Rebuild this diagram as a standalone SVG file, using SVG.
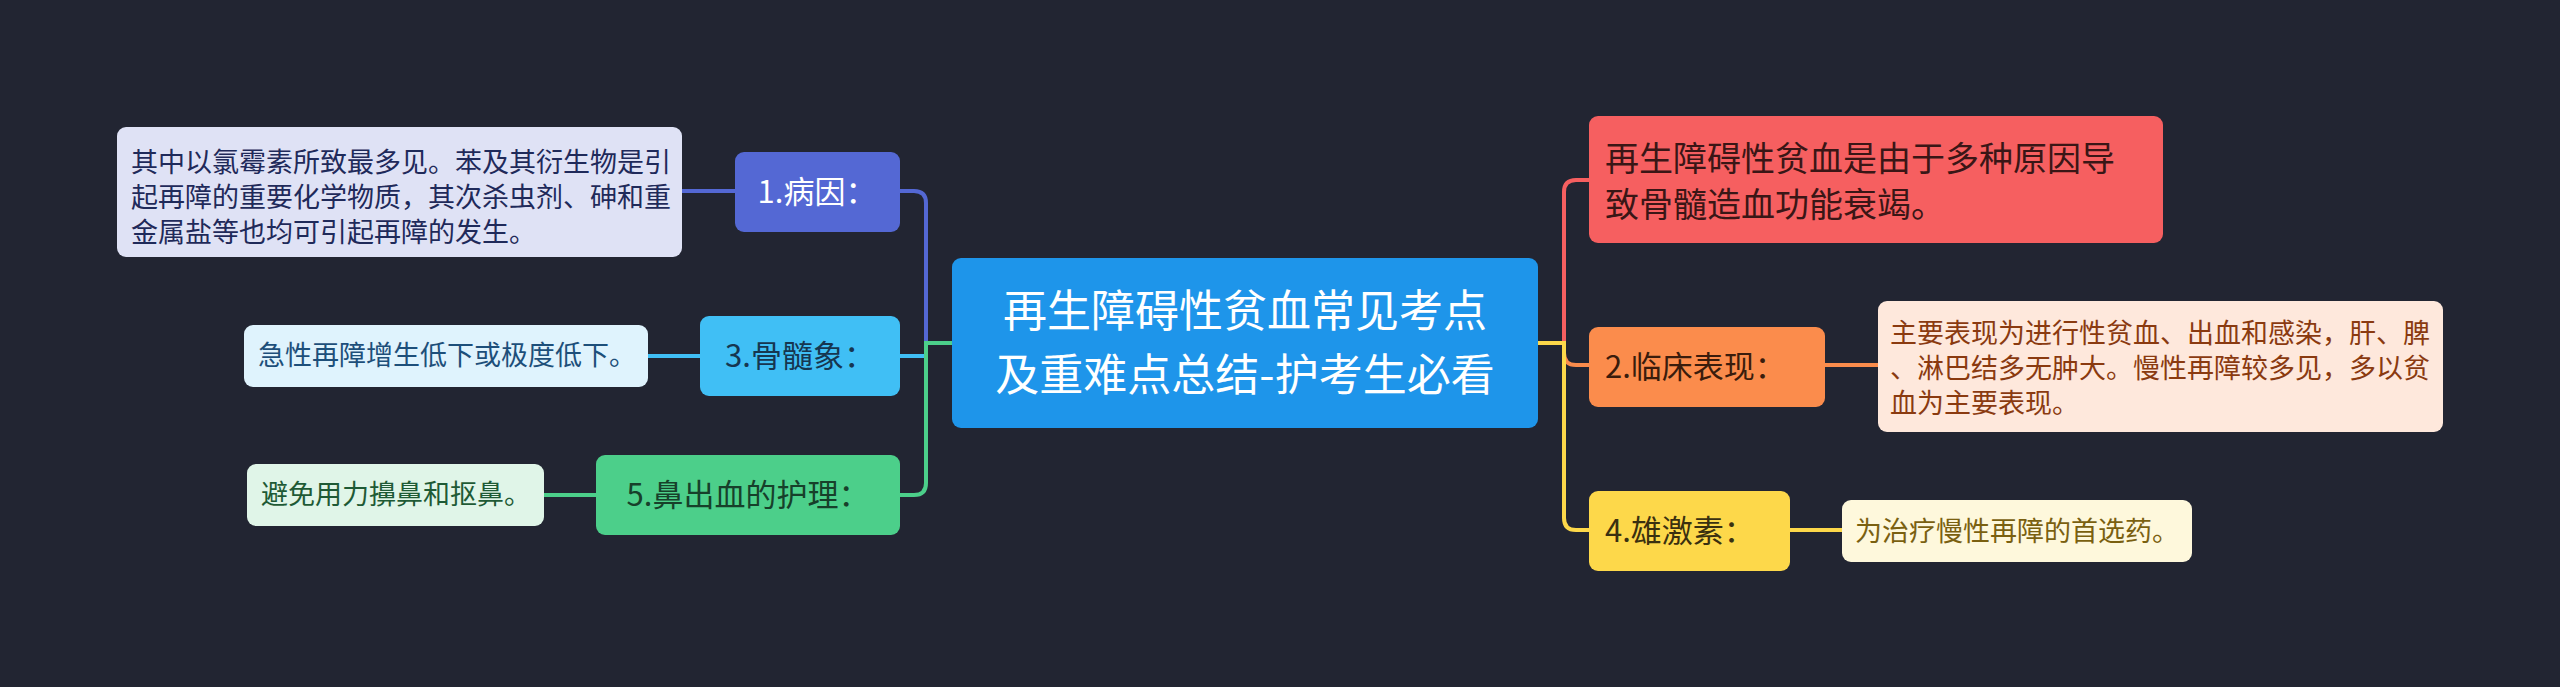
<svg xmlns="http://www.w3.org/2000/svg" width="2560" height="687" viewBox="0 0 2560 687">
<style>
text{font-family:"Noto Sans CJK SC","Noto Sans",sans-serif}
.c{fill:none;stroke-width:4}
.t{font-size:27px}
.n{font-size:31px}
</style>
<rect width="2560" height="687" fill="#222532"/>
<g id="connectors">
<path class="c" stroke="#5468d4" d="M952 343 H926 V203 Q926 191 914 191 H900"/>
<path class="c" stroke="#40bff5" d="M952 343 H926 V356 H900"/>
<path class="c" stroke="#4ccf8a" d="M952 343 H926 V483 Q926 495 914 495 H900"/>
<path class="c" stroke="#f65f60" d="M1538 343 H1564 V192 Q1564 180 1576 180 H1589"/>
<path class="c" stroke="#fb8c4c" d="M1538 343 H1564 V353 Q1564 365 1576 365 H1589"/>
<path class="c" stroke="#fdd84a" d="M1538 343 H1564 V518 Q1564 530 1576 530 H1589"/>
<path class="c" stroke="#5468d4" d="M682 191 H735"/>
<path class="c" stroke="#40bff5" d="M648 356 H700"/>
<path class="c" stroke="#4ccf8a" d="M544 495 H596"/>
<path class="c" stroke="#fb8c4c" d="M1825 365 H1878"/>
<path class="c" stroke="#fdd84a" d="M1790 530 H1842"/>
</g>
<g id="center">
<rect x="952" y="258" width="586" height="170" rx="9" fill="#1e95ea"/>
<text x="1245" y="327" font-size="44" fill="#fff" text-anchor="middle">再生障碍性贫血常见考点</text>
<text x="1245" y="391" font-size="44" fill="#fff" text-anchor="middle">及重难点总结-护考生必看</text>
</g>
<g id="n1">
<rect x="735" y="152" width="165" height="80" rx="9" fill="#5468d4"/>
<text x="817" y="203" class="n" fill="#fff" text-anchor="middle">1.病因：</text>
</g>
<g id="d1">
<rect x="117" y="127" width="565" height="130" rx="9" fill="#dfe2f5"/>
<text class="t" fill="#1f2a5a"><tspan x="131" y="172">其中以氯霉素所致最多见。苯及其衍生物是引</tspan><tspan x="131" y="207">起再障的重要化学物质，其次杀虫剂、砷和重</tspan><tspan x="131" y="242">金属盐等也均可引起再障的发生。</tspan></text>
</g>
<g id="n3">
<rect x="700" y="316" width="200" height="80" rx="9" fill="#40bff5"/>
<text x="800" y="367" class="n" fill="#163650" text-anchor="middle">3.骨髓象：</text>
</g>
<g id="d3">
<rect x="244" y="325" width="404" height="62" rx="9" fill="#dff3fd"/>
<text x="258" y="365" class="t" fill="#1d4f7a">急性再障增生低下或极度低下。</text>
</g>
<g id="n5">
<rect x="596" y="455" width="304" height="80" rx="9" fill="#4ccf8a"/>
<text x="748" y="506" class="n" fill="#17402a" text-anchor="middle">5.鼻出血的护理：</text>
</g>
<g id="d5">
<rect x="247" y="464" width="297" height="62" rx="9" fill="#e0f5e8"/>
<text x="261" y="504" class="t" fill="#1e5a35">避免用力擤鼻和抠鼻。</text>
</g>
<g id="r0">
<rect x="1589" y="116" width="574" height="127" rx="9" fill="#f65f60"/>
<text font-size="34" fill="#3a1616"><tspan x="1605" y="171">再生障碍性贫血是由于多种原因导</tspan><tspan x="1605" y="217">致骨髓造血功能衰竭。</tspan></text>
</g>
<g id="n2">
<rect x="1589" y="327" width="236" height="80" rx="9" fill="#fb8c4c"/>
<text x="1605" y="378" class="n" fill="#3a1c0c">2.临床表现：</text>
</g>
<g id="d2">
<rect x="1878" y="301" width="565" height="131" rx="9" fill="#fee8dc"/>
<text class="t" fill="#8a3a10"><tspan x="1890" y="343">主要表现为进行性贫血、出血和感染，肝、脾</tspan><tspan x="1890" y="378">、淋巴结多无肿大。慢性再障较多见，多以贫</tspan><tspan x="1890" y="413">血为主要表现。</tspan></text>
</g>
<g id="n4">
<rect x="1589" y="491" width="201" height="80" rx="9" fill="#fdd84a"/>
<text x="1605" y="542" class="n" fill="#3a3010">4.雄激素：</text>
</g>
<g id="d4">
<rect x="1842" y="500" width="350" height="62" rx="9" fill="#fef8dc"/>
<text x="1855" y="541" class="t" fill="#7a6010">为治疗慢性再障的首选药。</text>
</g>
</svg>
